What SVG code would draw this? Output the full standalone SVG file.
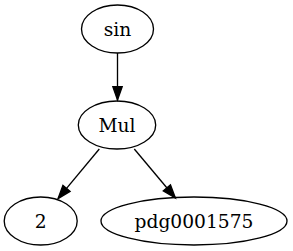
<svg xmlns="http://www.w3.org/2000/svg" width="293" height="251" viewBox="0 0 293 251">
<style>
.n ellipse{fill:none;stroke:#000;stroke-width:1.33}
.n text{font-family:"DejaVu Serif",serif;font-size:18.67px;text-anchor:middle;fill:#000}
.e line{stroke:#000;stroke-width:1.33}
</style>
<defs>
<marker id="ah" markerUnits="userSpaceOnUse" markerWidth="14" markerHeight="10" refX="13.3" refY="4.67" orient="auto" overflow="visible">
<path d="M0,0 L13.3,4.67 L0,9.33 Z" fill="#000" stroke="#000" stroke-width="1.33"/>
</marker>
</defs>
<rect width="293" height="251" fill="#fff"/>
<g id="edges" class="e">
<line x1="117.5" y1="53" x2="117.5" y2="100" marker-end="url(#ah)"/>
<line x1="99.3" y1="149" x2="58" y2="198.6" marker-end="url(#ah)"/>
<line x1="134.3" y1="149" x2="175.4" y2="198" marker-end="url(#ah)"/>
</g>
<g id="sin" class="n"><ellipse cx="117.5" cy="29" rx="36" ry="24"/><text x="117.5" y="35.5">sin</text></g>
<g id="Mul" class="n"><ellipse cx="117" cy="125" rx="38.7" ry="24"/><text x="117" y="131.5">Mul</text></g>
<g id="n2" class="n"><ellipse cx="40.7" cy="221" rx="36.5" ry="24"/><text x="40.7" y="227.5">2</text></g>
<g id="pdg" class="n"><ellipse cx="194" cy="221" rx="93" ry="24"/><text x="194" y="227.5">pdg0001575</text></g>
</svg>
